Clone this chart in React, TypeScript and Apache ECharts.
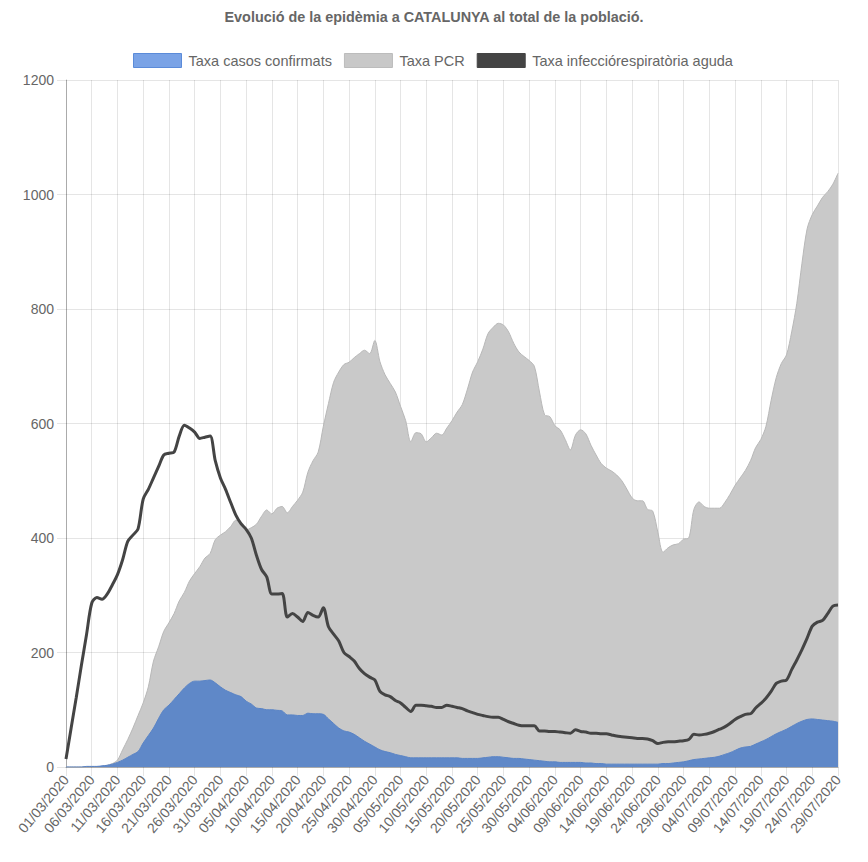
import React, { useEffect, useRef } from "react";
import * as echarts from "echarts";

const FONT = '"Liberation Sans", Arial, Helvetica, sans-serif';

const TITLE = "Evolució de la epidèmia a CATALUNYA al total de la població.";
const SERIES_NAMES = ["Taxa casos confirmats", "Taxa PCR", "Taxa infecciórespiratòria aguda"];

// 01/03/2020 .. 29/07/2020 (daily)
const START = { y: 2020, m: 3, d: 1 };
const DAYS = 151;

const casosConfirmats = [
  0, 0, 0, 0, 1, 1, 1, 2, 3, 5,
  8, 12, 17, 22, 27, 42, 55, 68, 85, 100,
  108, 118, 128, 138, 146, 150, 150, 151, 152, 147,
  140, 134, 130, 126, 123, 115, 110, 103, 102, 100,
  100, 99, 98, 91, 91, 90, 90, 94, 93, 93,
  92, 84, 76, 68, 63, 61, 57, 51, 45, 40,
  35, 30, 27, 25, 22, 20, 18, 16, 16, 16,
  16, 16, 16, 16, 16, 16, 16, 15, 15, 15,
  15, 16, 17, 18, 18, 17, 16, 15, 15, 14,
  13, 12, 11, 10, 9, 9, 8, 8, 8, 8,
  8, 7, 7, 6, 6, 5, 5, 5, 5, 5,
  5, 5, 5, 5, 5, 5, 6, 6, 7, 8,
  9, 11, 13, 14, 15, 16, 17, 19, 22, 25,
  29, 33, 35, 36, 40, 44, 48, 53, 58, 62,
  66, 71, 76, 80, 83, 84, 83, 82, 81, 80,
  78,
];

const taxaPCR = [
  0, 0, 0, 0, 1, 1, 1, 1, 3, 6,
  12, 30, 48, 68, 90, 112, 140, 185, 210, 237,
  252, 268, 290, 305, 325, 338, 350, 365, 373, 397,
  405, 411, 420, 431, 425, 414, 418, 424, 438, 449,
  442, 452, 455, 444, 455, 466, 480, 515, 535, 550,
  595, 635, 672, 690, 703, 707, 715, 722, 728, 722,
  745, 708, 685, 670, 655, 630, 605, 568, 584, 582,
  568, 575, 583, 580, 592, 605, 620, 633, 660, 690,
  708, 730, 757, 768, 775, 772, 760, 740, 725, 717,
  710, 700, 655, 615, 612, 596, 589, 572, 554, 580,
  589, 582, 562, 545, 530, 522, 517, 510, 500, 485,
  470, 465, 465, 450, 447, 410, 375, 383, 388, 390,
  398, 400, 450, 463, 455, 452, 452, 452, 462, 476,
  492, 505, 518, 535, 558, 572, 595, 640, 680, 705,
  720, 760, 810, 880, 940, 965, 980, 995, 1005, 1018,
  1037,
];

const taxaIRA = [
  14, 68, 122, 178, 232, 286, 296, 293, 302, 318,
  336, 362, 394, 405, 416, 468, 485, 505, 525, 545,
  548, 550, 578, 597, 592, 585, 574, 576, 578, 535,
  505, 485, 462, 440, 425, 415, 400, 370, 345, 332,
  302, 302, 303, 262, 268, 262, 254, 270, 265, 262,
  278, 245, 232, 220, 200, 193, 185, 172, 163, 157,
  152, 132, 126, 123, 116, 112, 104, 97, 108, 108,
  107, 106, 104, 104, 108, 106, 104, 102, 98, 95,
  92, 90, 88, 87, 87, 83, 79, 76, 73, 72,
  72, 72, 63, 63, 62, 62, 61, 60, 59, 65,
  62, 61, 59, 59, 58, 58, 56, 54, 53, 52,
  51, 50, 50, 49, 46, 41, 43, 44, 44, 45,
  46, 48, 57, 56, 57, 59, 62, 66, 70, 76,
  83, 88, 92, 93, 103, 111, 120, 132, 146, 150,
  152, 170, 187, 205, 225, 246, 253, 256, 268, 281,
  283,
];

const Y_MIN = 0;
const Y_MAX = 1200;
const Y_STEP = 200;

function buildDates(): string[] {
  const out: string[] = [];
  const base = Date.UTC(START.y, START.m - 1, START.d);
  for (let i = 0; i < DAYS; i++) {
    const dt = new Date(base + i * 86400000);
    const dd = String(dt.getUTCDate()).padStart(2, "0");
    const mm = String(dt.getUTCMonth() + 1).padStart(2, "0");
    out.push(`${dd}/${mm}/${dt.getUTCFullYear()}`);
  }
  return out;
}

export default function App() {
  const ref = useRef<HTMLDivElement>(null);

  useEffect(() => {
    if (!ref.current) return;
    const chart = echarts.init(ref.current, undefined, { renderer: "svg" });
    const dates = buildDates();
    const grid = "rgba(0,0,0,0.1)";
    chart.setOption({
      animation: false,
      backgroundColor: "#ffffff",
      title: {
        text: TITLE,
        left: "center",
        top: 10,
        padding: 0,
        textStyle: { fontSize: 14.4, fontWeight: "bold", color: "#666", fontFamily: FONT },
      },
      legend: {
        top: 53,
        left: 133,
        padding: 0,
        icon: "rect",
        itemWidth: 48,
        itemHeight: 14,
        itemGap: 12,
        textStyle: { fontSize: 14.5, color: "#666", fontFamily: FONT, padding: [0, 0, 0, 2] },
        data: [
          { name: SERIES_NAMES[0], itemStyle: { color: "#7aa3e6", borderColor: "#5b8bd9", borderWidth: 1 } },
          { name: SERIES_NAMES[1], itemStyle: { color: "#c8c8c8", borderColor: "#bcbcbc", borderWidth: 1 } },
          { name: SERIES_NAMES[2], itemStyle: { color: "#444444", borderColor: "#444444", borderWidth: 1 } },
        ],
      },
      grid: { left: 66, right: 30, top: 80, bottom: 95, containLabel: false },
      xAxis: {
        type: "category",
        data: dates,
        boundaryGap: false,
        axisLine: { show: true, lineStyle: { color: "rgba(0,0,0,0.25)", width: 1 } },
        axisTick: { show: true, interval: 4, length: 9, lineStyle: { color: grid } },
        axisLabel: {
          interval: 4,
          rotate: 50,
          margin: 10,
          fontSize: 14,
          color: "#666",
          fontFamily: FONT,
        },
        splitLine: { show: true, interval: 4, lineStyle: { color: grid, width: 1 } },
      },
      yAxis: {
        type: "value",
        min: Y_MIN,
        max: Y_MAX,
        interval: Y_STEP,
        axisLine: { show: true, lineStyle: { color: "rgba(0,0,0,0.25)", width: 1 } },
        axisTick: { show: true, length: 9, lineStyle: { color: grid } },
        axisLabel: {
          margin: 12,
          fontSize: 14,
          color: "#666",
          fontFamily: FONT,
          formatter: (v: number) => String(v),
        },
        splitLine: { show: true, lineStyle: { color: grid, width: 1 } },
      },
      series: [
        {
          name: SERIES_NAMES[0],
          type: "line",
          data: casosConfirmats,
          smooth: 0.3,
          showSymbol: false,
          symbol: "none",
          z: 3,
          itemStyle: { color: "#7aa3e6" },
          lineStyle: { color: "#5a84c6", width: 1 },
          areaStyle: { color: "#5f88c8", opacity: 1 },
        },
        {
          name: SERIES_NAMES[1],
          type: "line",
          data: taxaPCR,
          smooth: 0.3,
          showSymbol: false,
          symbol: "none",
          z: 2,
          itemStyle: { color: "#c8c8c8" },
          lineStyle: { color: "#b8b8b8", width: 1 },
          areaStyle: { color: "#c9c9c9", opacity: 1 },
        },
        {
          name: SERIES_NAMES[2],
          type: "line",
          data: taxaIRA,
          smooth: 0.3,
          showSymbol: false,
          symbol: "none",
          z: 4,
          itemStyle: { color: "#444444" },
          lineStyle: { color: "#444444", width: 3 },
        },
      ],
    });
    return () => chart.dispose();
  }, []);

  return (
    <div
      ref={ref}
      style={{ position: "fixed", left: 0, top: 0, width: 868, height: 862, background: "#fff" }}
    />
  );
}
